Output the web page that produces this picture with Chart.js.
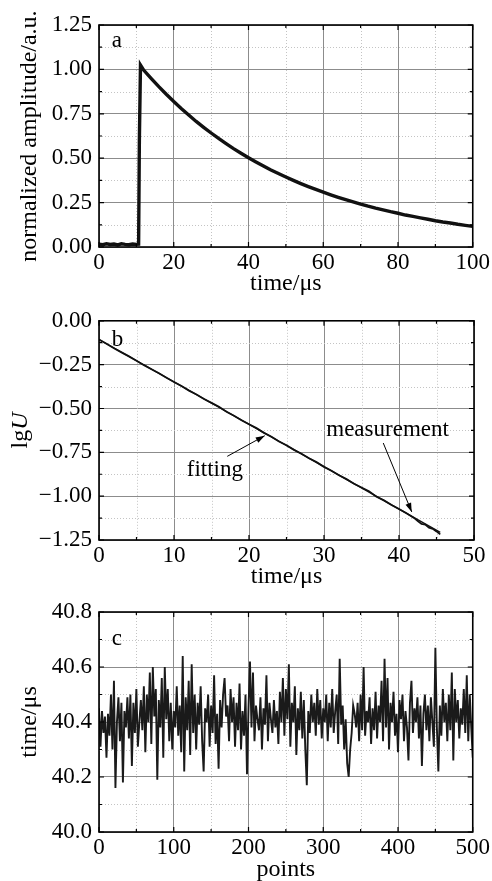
<!DOCTYPE html>
<html><head><meta charset="utf-8">
<script src="https://cdn.jsdelivr.net/npm/chart.js@4/dist/chart.umd.min.js"></script>
<style>
html,body{margin:0;padding:0;background:#fff;width:492px;height:881px;overflow:hidden}
canvas{position:absolute;left:0}
</style></head><body>
<canvas id="ca" style="top:0" width="492" height="300"></canvas>
<canvas id="cb" style="top:300px" width="492" height="290"></canvas>
<canvas id="cc" style="top:590px" width="492" height="291"></canvas>
<script>
// ---------- Panel a: normalized amplitude vs time ----------
const timeA = [0,1,2,3,4,5,6,7,8,9,10,10.6,10.8,11.1,12,14,16,18,20,22,24,26,28,30,32,34,36,38,40,42,44,46,48,50,52,54,56,58,60,62,64,66,68,70,72,74,76,78,80,82,84,86,88,90,92,94,96,98,100];
const ampA = [0.016,0.013,0.018,0.014,0.017,0.012,0.018,0.015,0.013,0.017,0.015,0.016,0.60,1.025,0.995,0.948,0.903,0.860,0.819,0.780,0.743,0.707,0.674,0.642,0.611,0.582,0.554,0.528,0.503,0.479,0.456,0.434,0.414,0.394,0.375,0.357,0.340,0.324,0.309,0.294,0.280,0.267,0.254,0.242,0.230,0.219,0.209,0.199,0.190,0.180,0.172,0.164,0.156,0.148,0.141,0.135,0.128,0.122,0.116];

// ---------- Panel b: lgU vs time ----------
const timeB = [0,1,2,3,4,5,6,7,8,9,10,11,12,13,14,15,16,17,18,19,20,21,22,23,24,25,26,27,28,29,30,31,32,33,34,35,36,37,38,39,40,41,42,42.5,43,43.5,44,44.5,45,45.5];
const lgMeas = [-0.107,-0.131,-0.156,-0.180,-0.203,-0.228,-0.253,-0.276,-0.299,-0.325,-0.349,-0.372,-0.398,-0.420,-0.446,-0.468,-0.490,-0.519,-0.541,-0.567,-0.590,-0.612,-0.639,-0.661,-0.688,-0.710,-0.736,-0.758,-0.784,-0.806,-0.833,-0.855,-0.881,-0.903,-0.929,-0.951,-0.972,-1.003,-1.024,-1.050,-1.073,-1.098,-1.124,-1.142,-1.158,-1.162,-1.180,-1.186,-1.201,-1.218];
const timeFit = [0,45.5];
const lgFit = [-0.107,-1.206];

// ---------- Panel c: time vs points ----------
const pointsC = [0,2,4,6,8,10,12,14,16,18,20,22,24,26,28,30,32,34,36,38,40,42,44,46,48,50,52,54,56,58,60,62,64,66,68,70,72,74,76,78,80,82,84,86,88,90,92,94,96,98,100,102,104,106,108,110,112,114,116,118,120,122,124,126,128,130,132,134,136,138,140,142,144,146,148,150,152,154,156,158,160,162,164,166,168,170,172,174,176,178,180,182,184,186,188,190,192,194,196,198,200,202,204,206,208,210,212,214,216,218,220,222,224,226,228,230,232,234,236,238,240,242,244,246,248,250,252,254,256,258,260,262,264,266,268,270,272,274,276,278,280,282,284,286,288,290,292,294,296,298,300,302,304,306,308,310,312,314,316,318,320,322,324,326,328,330,332,334,336,338,340,342,344,346,348,350,352,354,356,358,360,362,364,366,368,370,372,374,376,378,380,382,384,386,388,390,392,394,396,398,400,402,404,406,408,410,412,414,416,418,420,422,424,426,428,430,432,434,436,438,440,442,444,446,448,450,452,454,456,458,460,462,464,466,468,470,472,474,476,478,480,482,484,486,488,490,492,494,496,498,500];
const timeC = [40.45,40.31,40.44,40.36,40.42,40.27,40.43,40.35,40.50,40.30,40.55,40.16,40.40,40.49,40.33,40.47,40.18,40.44,40.38,40.49,40.34,40.50,40.24,40.47,40.36,40.52,40.31,40.40,40.48,40.37,40.53,40.29,40.50,40.40,40.58,40.32,40.60,40.42,40.52,40.19,40.48,40.38,40.56,40.27,40.60,40.41,40.52,40.33,40.47,40.30,40.44,40.38,40.53,40.35,40.46,40.29,40.64,40.22,40.49,40.37,40.55,40.28,40.61,40.36,40.50,40.30,40.47,40.39,40.53,40.33,40.22,40.45,40.40,40.50,40.31,40.46,40.36,40.57,40.32,40.43,40.23,40.48,40.38,40.50,40.56,40.42,40.46,40.33,40.52,40.40,40.49,40.31,40.47,40.37,40.54,40.30,40.44,40.35,40.50,40.21,40.45,40.62,40.38,40.58,40.33,40.46,40.41,40.37,40.49,40.30,40.45,40.39,40.57,40.33,40.47,40.41,40.36,40.48,40.38,40.44,40.32,40.51,40.40,40.56,40.35,40.52,40.41,40.61,40.31,40.47,40.40,40.53,40.28,40.45,40.37,40.51,40.34,40.48,40.30,40.17,40.44,40.36,40.50,40.40,40.47,40.35,40.52,40.39,40.48,40.34,40.45,40.40,40.50,40.33,40.47,40.38,40.52,40.36,40.44,40.50,40.32,40.63,40.39,40.46,40.30,40.41,40.25,40.20,40.30,40.36,40.46,40.43,40.38,40.47,40.33,40.50,40.37,40.60,40.35,40.44,40.40,40.49,40.32,40.45,40.37,40.51,40.34,40.46,40.40,40.55,40.33,40.63,40.38,40.56,40.30,40.47,40.40,40.51,40.35,40.43,40.29,40.48,40.41,40.50,40.33,40.44,40.38,40.26,40.47,40.55,40.36,40.45,40.40,40.49,40.34,40.46,40.24,40.43,40.50,40.37,40.46,40.33,40.49,40.40,40.31,40.67,40.38,40.22,40.46,40.35,40.52,40.40,40.47,40.33,40.50,40.37,40.58,40.26,40.52,40.40,40.48,40.34,40.45,40.39,40.52,40.36,40.57,40.33,40.50,40.38,40.27];

// ---------- shared styling ----------
const FONT = '"Liberation Serif","Times New Roman",serif';
Chart.defaults.font.family = FONT;
Chart.defaults.color = '#000';

function pts(xs, ys){ return xs.map((x,i)=>({x:x, y:ys[i]})); }
function minorVals(scale){
  const t = scale.ticks.map(k=>k.value); const out=[];
  for(let i=0;i<t.length-1;i++) out.push((t[i]+t[i+1])/2);
  return out;
}
function arrow(ctx,x1,y1,x2,y2){
  ctx.beginPath(); ctx.moveTo(x1,y1); ctx.lineTo(x2,y2); ctx.stroke();
  const a=Math.atan2(y2-y1,x2-x1), L=9, W=3;
  ctx.beginPath(); ctx.moveTo(x2,y2);
  ctx.lineTo(x2-L*Math.cos(a)+W*Math.sin(a), y2-L*Math.sin(a)-W*Math.cos(a));
  ctx.lineTo(x2-L*Math.cos(a)-W*Math.sin(a), y2-L*Math.sin(a)+W*Math.cos(a));
  ctx.closePath(); ctx.fill();
}
const framePlugin = {
  id:'frame',
  beforeDatasetsDraw(chart){
    const {ctx, chartArea:a, scales:{x,y}} = chart;
    ctx.save(); ctx.strokeStyle='#c4c4c4'; ctx.lineWidth=1; ctx.setLineDash([1,2]);
    minorVals(x).forEach(v=>{const p=Math.round(x.getPixelForValue(v))+0.5; ctx.beginPath(); ctx.moveTo(p,a.top); ctx.lineTo(p,a.bottom); ctx.stroke();});
    minorVals(y).forEach(v=>{const p=Math.round(y.getPixelForValue(v))+0.5; ctx.beginPath(); ctx.moveTo(a.left,p); ctx.lineTo(a.right,p); ctx.stroke();});
    ctx.restore();
  },
  afterDraw(chart, args, opts){
    const {ctx, chartArea:a, scales:{x,y}} = chart;
    ctx.save();
    ctx.strokeStyle='#000'; ctx.fillStyle='#000'; ctx.lineWidth=1.2;
    const tk=(vals,len)=>{
      vals.forEach(v=>{const p=x.getPixelForValue(v); ctx.beginPath(); ctx.moveTo(p,a.bottom); ctx.lineTo(p,a.bottom-len); ctx.moveTo(p,a.top); ctx.lineTo(p,a.top+len); ctx.stroke();});
    };
    const tky=(vals,len)=>{
      vals.forEach(v=>{const p=y.getPixelForValue(v); ctx.beginPath(); ctx.moveTo(a.left,p); ctx.lineTo(a.left+len,p); ctx.moveTo(a.right,p); ctx.lineTo(a.right-len,p); ctx.stroke();});
    };
    tk(x.ticks.map(k=>k.value),5); tk(minorVals(x),3);
    tky(y.ticks.map(k=>k.value),5); tky(minorVals(y),3);
    ctx.lineWidth=1.6; ctx.strokeRect(a.left,a.top,a.right-a.left,a.bottom-a.top);
    ctx.lineWidth=1;
    (opts.texts||[]).forEach(t=>{
      ctx.font='23px '+FONT; ctx.textBaseline='alphabetic'; ctx.textAlign='left';
      ctx.fillText(t.text, x.getPixelForValue(t.x), y.getPixelForValue(t.y));
    });
    (opts.arrows||[]).forEach(r=>{
      arrow(ctx, x.getPixelForValue(r.x1), y.getPixelForValue(r.y1), x.getPixelForValue(r.x2), y.getPixelForValue(r.y2));
    });
    if(opts.lgTitle){
      const cy=(a.top+a.bottom)/2;
      ctx.translate(opts.lgTitle.cx, cy); ctx.rotate(-Math.PI/2);
      ctx.textBaseline='middle'; ctx.textAlign='left';
      ctx.font='24px '+FONT; const w1=ctx.measureText('lg').width;
      ctx.font='italic 24px '+FONT; const w2=ctx.measureText('U').width;
      const s=-(w1+w2)/2;
      ctx.font='24px '+FONT; ctx.fillText('lg', s, 0);
      ctx.font='italic 24px '+FONT; ctx.fillText('U', s+w1, 0);
    }
    ctx.restore();
  }
};

function makeChart(id, cfg){
  const xs = {
    type:'linear', min:cfg.xmin, max:cfg.xmax,
    ticks:{stepSize:cfg.xstep, padding:2, autoSkip:false, maxRotation:0, font:{size:23}, callback:v=>String(v)},
    grid:{color:'#8c8c8c', lineWidth:1, drawTicks:false},
    border:{display:false},
    title:{display:true, text:cfg.xtitle, font:{size:24, lineHeight:1}, padding:{top:0,bottom:cfg.xtp}},
    afterFit:s=>{s.height=cfg.xh;}
  };
  const ys = {
    type:'linear', min:cfg.ymin, max:cfg.ymax,
    ticks:{stepSize:cfg.ystep, padding:7, autoSkip:false, font:{size:23}, callback:cfg.yfmt},
    grid:{color:'#8c8c8c', lineWidth:1, drawTicks:false},
    border:{display:false},
    title:{display:!!cfg.ytitle, text:cfg.ytitle||'', font:{size:24, lineHeight:1}, padding:{top:cfg.ytp||0,bottom:0}},
    afterFit:s=>{s.width=99;}
  };
  return new Chart(document.getElementById(id), {
    type:'line',
    data:{datasets:cfg.datasets},
    options:{
      responsive:false, animation:false, devicePixelRatio:1,
      layout:{padding:{top:cfg.top, right:18, bottom:0, left:0}},
      elements:{point:{radius:0}, line:{tension:0}},
      scales:{x:xs, y:ys},
      plugins:{legend:{display:false}, tooltip:{enabled:false}, frame:cfg.frame}
    },
    plugins:[framePlugin]
  });
}

makeChart('ca', {
  xmin:0, xmax:100, xstep:20, ymin:0, ymax:1.25, ystep:0.25,
  yfmt:v=>v.toFixed(2), xtitle:'time/\u03bcs', ytitle:'normalized amplitude/a.u.',
  xh:53, xtp:4, ytp:18, top:25,
  datasets:[{data:pts(timeA, ampA), borderColor:'#111', borderWidth:3.4}],
  frame:{texts:[{x:3.4, y:1.125, text:'a'}]}
});

makeChart('cb', {
  xmin:0, xmax:50, xstep:10, ymin:-1.25, ymax:0, ystep:0.25,
  yfmt:v=>v.toFixed(2).replace('-', '\u2212'), xtitle:'time/\u03bcs', ytitle:null,
  xh:50, xtp:1, top:18,
  datasets:[
    {data:pts(timeFit, lgFit), borderColor:'#111', borderWidth:1.4},
    {data:pts(timeB, lgMeas), borderColor:'#111', borderWidth:1.8}
  ],
  frame:{
    texts:[{x:1.7, y:-0.145, text:'b'},{x:11.7, y:-0.885, text:'fitting'},{x:30.3, y:-0.655, text:'measurement'}],
    arrows:[{x1:17.1, y1:-0.773, x2:22.1, y2:-0.655},{x1:37.9, y1:-0.697, x2:41.7, y2:-1.09}],
    lgTitle:{cx:21}
  }
});

makeChart('cc', {
  xmin:0, xmax:500, xstep:100, ymin:40.0, ymax:40.8, ystep:0.2,
  yfmt:v=>v.toFixed(1), xtitle:'points', ytitle:'time/\u03bcs',
  xh:49, xtp:-1, ytp:18, top:22,
  datasets:[{data:pts(pointsC, timeC), borderColor:'#1a1a1a', borderWidth:1.9}],
  frame:{texts:[{x:17, y:40.68, text:'c'}]}
});
</script>
</body></html>
